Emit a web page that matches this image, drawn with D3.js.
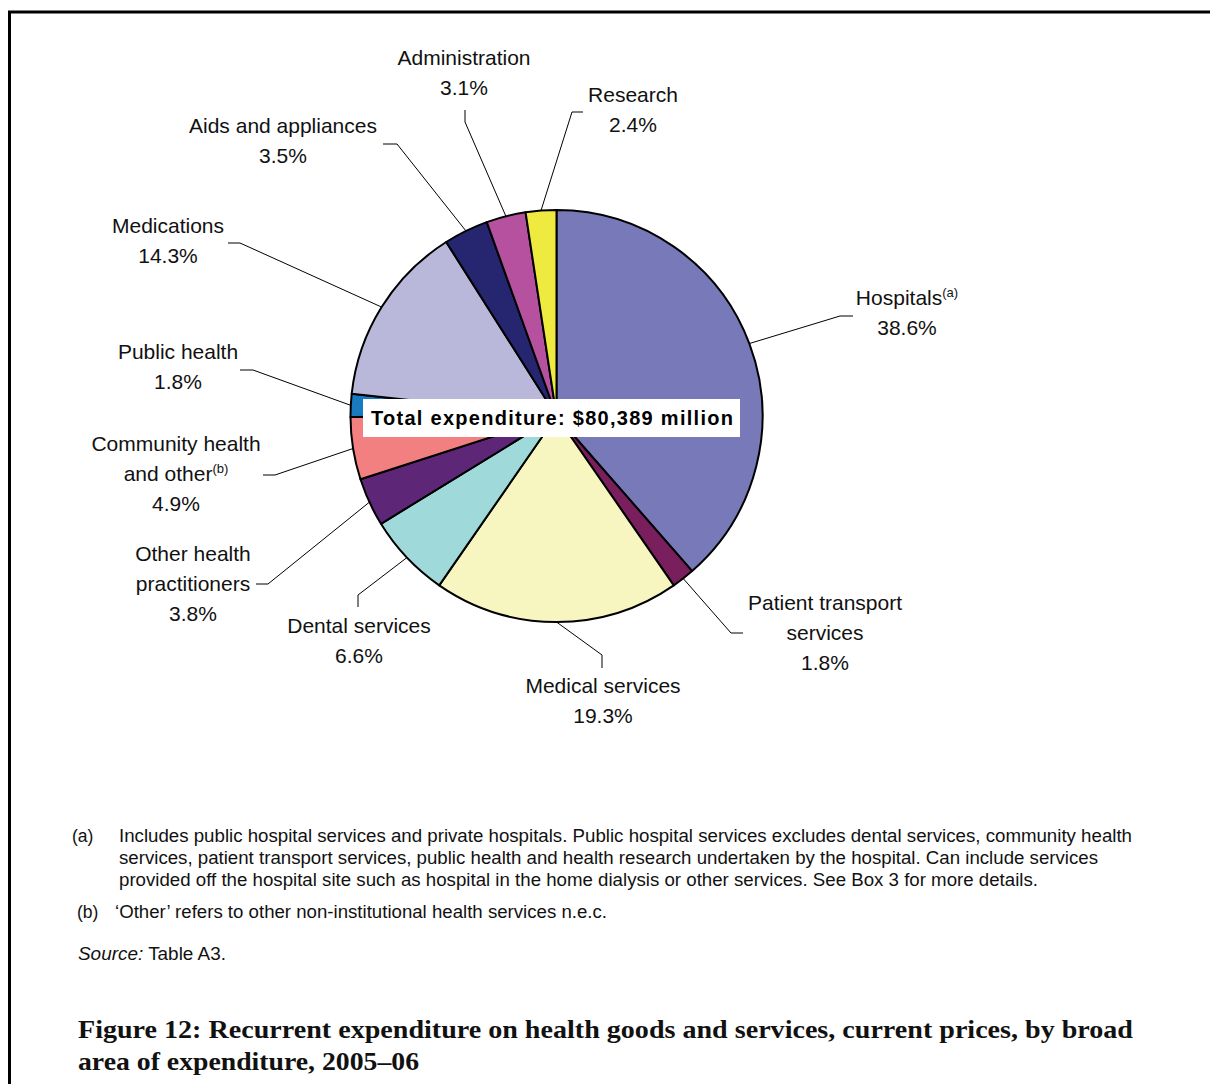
<!DOCTYPE html>
<html>
<head>
<meta charset="utf-8">
<script src="https://cdn.jsdelivr.net/npm/d3@7/dist/d3.min.js"></script>
<style>
  html, body { margin: 0; padding: 0; background: #fff; }
  svg { display: block; }
</style>
</head>
<body>
<script>
// Recurrent health expenditure by broad area, 2005–06 (per cent of total)
const categories = [
  "Hospitals", "Patient transport services", "Medical services", "Dental services",
  "Other health practitioners", "Community health and other", "Public health",
  "Medications", "Aids and appliances", "Administration", "Research"
];
const shares = [38.6, 1.8, 19.3, 6.6, 3.8, 4.9, 1.8, 14.3, 3.5, 3.1, 2.4];
const colours = [
  "#7779b8", "#7a1f5e", "#f7f6c0", "#a0d9da", "#5e2677", "#f28080",
  "#1a7abf", "#b9b8da", "#262670", "#b5519f", "#eeea40"
];
// Label text lines; a second element in a line pair marks a superscript note
const labelLines = [
  [["Hospitals", "(a)"], ["38.6%"]],
  [["Patient transport"], ["services"], ["1.8%"]],
  [["Medical services"], ["19.3%"]],
  [["Dental services"], ["6.6%"]],
  [["Other health"], ["practitioners"], ["3.8%"]],
  [["Community health"], ["and other", "(b)"], ["4.9%"]],
  [["Public health"], ["1.8%"]],
  [["Medications"], ["14.3%"]],
  [["Aids and appliances"], ["3.5%"]],
  [["Administration"], ["3.1%"]],
  [["Research"], ["2.4%"]]
];
const totalLabel = "Total expenditure: $80,389 million";

// Leader-line elbows/ends and label anchors (layout only)
const labelLayout = [
  { elbow: [840, 316], end: [853, 316], x: 907, y: 305 },
  { elbow: [731, 633], end: [743, 633], x: 825, y: 610 },
  { elbow: [602, 655], end: [602, 668], x: 603, y: 693 },
  { elbow: [358, 595], end: [358, 607], x: 359, y: 633 },
  { elbow: [268, 584], end: [256, 584], x: 193, y: 561 },
  { elbow: [275, 475], end: [263, 475], x: 176, y: 451 },
  { elbow: [253, 370], end: [240, 370], x: 178, y: 359 },
  { elbow: [240, 243], end: [228, 243], x: 168, y: 233 },
  { elbow: [397, 144], end: [383, 144], x: 283, y: 133 },
  { elbow: [465, 122], end: [465, 110], x: 464, y: 65 },
  { elbow: [572, 112], end: [583, 112], x: 633, y: 102 }
];

const W = 1210, H = 1084;
const cx = 556.5, cy = 416, R = 206;
const sans = "'Liberation Sans', Arial, Helvetica, sans-serif";

const svg = d3.select("body").append("svg")
  .attr("width", W).attr("height", H);

// Frame (top and left rules)
svg.append("path")
  .attr("d", `M9.5,${H} V12 H${W}`)
  .attr("fill", "none").attr("stroke", "#000").attr("stroke-width", 3);

const data = categories.map((c, i) => ({ name: c, value: shares[i], i }));
const pie = d3.pie().sort(null).value(d => d.value).startAngle(0).endAngle(2 * Math.PI);
const arcs = pie(data);
const arc = d3.arc().innerRadius(0).outerRadius(R);

const g = svg.append("g").attr("transform", `translate(${cx},${cy})`);

g.selectAll("path.slice")
  .data(arcs)
  .join("path")
  .attr("class", "slice")
  .attr("d", arc)
  .attr("fill", d => colours[d.data.i])
  .attr("stroke", "#000")
  .attr("stroke-width", 2)
  .attr("stroke-linejoin", "round");

// Leader lines: from the rim at each slice's mid-angle to its label
svg.append("g").selectAll("polyline")
  .data(arcs)
  .join("polyline")
  .attr("points", d => {
    const a = (d.startAngle + d.endAngle) / 2;
    const p0 = [cx + R * Math.sin(a), cy - R * Math.cos(a)];
    const L = labelLayout[d.data.i];
    return [p0, L.elbow, L.end].map(p => p.join(",")).join(" ");
  })
  .attr("fill", "none")
  .attr("stroke", "#000")
  .attr("stroke-width", 1);

// Category labels
const labels = svg.append("g")
  .attr("font-family", sans)
  .attr("font-size", 21)
  .attr("fill", "#111")
  .attr("text-anchor", "middle");

labelLines.forEach((lines, i) => {
  const L = labelLayout[i];
  lines.forEach((ln, k) => {
    const t = labels.append("text")
      .attr("x", L.x)
      .attr("y", L.y + k * 30);
    t.append("tspan").text(ln[0]);
    if (ln[1]) {
      t.append("tspan")
        .attr("font-size", 13)
        .attr("dy", -8)
        .text(ln[1]);
    }
  });
});

// Total expenditure banner across the pie
const banner = svg.append("g");
banner.append("rect")
  .attr("x", 363).attr("y", 399)
  .attr("width", 377).attr("height", 38)
  .attr("fill", "#fff");
banner.append("text")
  .attr("x", 552).attr("y", 425)
  .attr("text-anchor", "middle")
  .attr("font-family", sans)
  .attr("font-weight", "bold")
  .attr("font-size", 20)
  .attr("fill", "#000")
  .attr("textLength", 362)
  .attr("lengthAdjust", "spacing")
  .text(totalLabel);

// Footnotes
const notes = svg.append("g")
  .attr("font-family", sans)
  .attr("font-size", 17.5)
  .attr("fill", "#111");

notes.append("text").attr("x", 72).attr("y", 842).text("(a)");
const noteA = [
  ["Includes public hospital services and private hospitals. Public hospital services excludes dental services, community health", 1013],
  ["services, patient transport services, public health and health research undertaken by the hospital. Can include services", 979],
  ["provided off the hospital site such as hospital in the home dialysis or other services. See Box 3 for more details.", 919]
];
noteA.forEach(([s, len], k) => {
  notes.append("text").attr("x", 119).attr("y", 842 + k * 22)
    .attr("textLength", len).attr("lengthAdjust", "spacingAndGlyphs")
    .text(s);
});
notes.append("text").attr("x", 77).attr("y", 918).text("(b)");
notes.append("text").attr("x", 115).attr("y", 918)
  .attr("textLength", 492).attr("lengthAdjust", "spacingAndGlyphs")
  .text("\u2018Other\u2019 refers to other non-institutional health services n.e.c.");
const src = notes.append("text").attr("x", 78).attr("y", 960)
  .attr("textLength", 148).attr("lengthAdjust", "spacingAndGlyphs");
src.append("tspan").attr("font-style", "italic").text("Source:");
src.append("tspan").text(" Table A3.");

// Figure caption
const caption = svg.append("g")
  .attr("font-family", "'Liberation Serif', 'Times New Roman', serif")
  .attr("font-weight", "bold")
  .attr("font-size", 25)
  .attr("fill", "#111");
caption.append("text").attr("x", 78).attr("y", 1038)
  .attr("textLength", 1055).attr("lengthAdjust", "spacingAndGlyphs")
  .text("Figure 12: Recurrent expenditure on health goods and services, current prices, by broad");
caption.append("text").attr("x", 78).attr("y", 1070)
  .attr("textLength", 341).attr("lengthAdjust", "spacingAndGlyphs")
  .text("area of expenditure, 2005\u201306");
</script>
</body>
</html>
